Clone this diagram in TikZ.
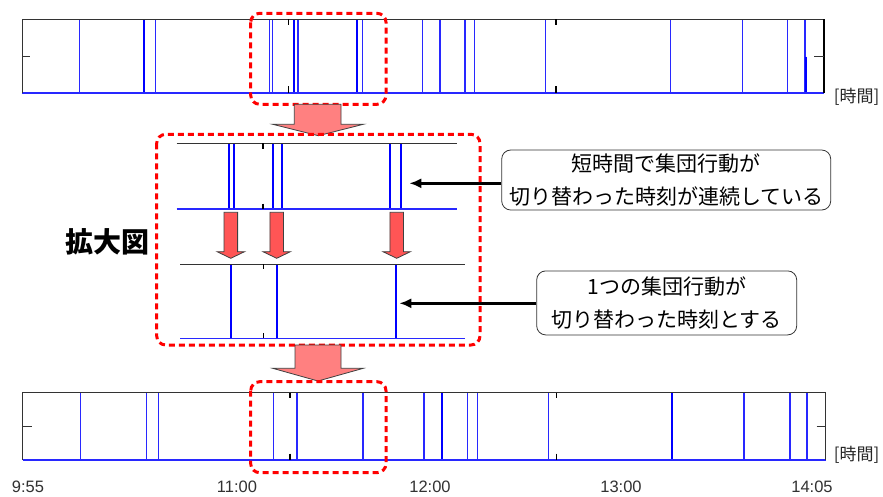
\documentclass[tikz,border=0pt]{standalone}
\usepackage{fontspec}
\setmainfont{Liberation Sans}
\newfontfamily\jp{Noto Sans CJK JP}
\usetikzlibrary{arrows.meta}
\definecolor{evblue}{RGB}{40,40,255}
\definecolor{bigpink}{RGB}{255,128,128}
\definecolor{smallred}{RGB}{255,85,85}
\definecolor{axisgray}{RGB}{50,50,50}
\tikzset{
 frame/.style={draw=black!80, line width=1pt},
 baseblue/.style={draw=evblue, line width=1.2pt},
 ev/.style={draw=evblue, line width=1.2pt},
 evthick/.style={draw=blue, line width=2pt},
 evmid/.style={draw=blue, line width=1.8pt},
 tickmark/.style={draw=black, line width=1.5pt},
 zoombox/.style={draw=red, line width=3pt, dash pattern=on 6pt off 4pt, rounded corners=9pt},
 bigarrow/.style={fill=bigpink, draw=black!75, line width=0.8pt},
 smallarrow/.style={fill=smallred, draw=black!75, line width=0.8pt},
 callout/.style={draw=black!80, line width=0.8pt, rounded corners=9pt, align=center,
   font=\jp\fontsize{21}{33.5}\selectfont, inner sep=0pt},
 pointer/.style={draw=black, line width=2.4pt, -{Latex[length=12pt,width=10pt]}},
 timelabel/.style={font=\fontsize{16.5}{18}\selectfont, text=axisgray, inner sep=0pt},
 unitlabel/.style={font=\jp\fontsize{17}{18}\selectfont, text=black!85, inner sep=0pt},
 titlelabel/.style={font=\jp\bfseries\fontsize{28}{30}\selectfont, inner sep=0pt},
}
\begin{document}
\begin{tikzpicture}[x=1pt,y=-1pt]
\useasboundingbox (0,0) rectangle (883,496);
\fill[white] (0,0) rectangle (883,496);

% ---------- top strip ----------
\foreach \x in {79.3,155.7,269.3,272.7,298,362.7,422.7,440,465,474.7,545.7,670.7,742.7,787.7,805}
  \draw[ev] (\x,19) -- (\x,93);
\foreach \x in {144,294,357.3}
  \draw[evthick] (\x,19) -- (\x,93);
\draw[evthick] (805.8,56.5) -- (805.8,93);
\draw[baseblue] (22,93) -- (824,93);
\draw[frame] (22,93) -- (22,19) -- (824,19);
\draw[draw=black, line width=2pt] (824,19) -- (824,93);
\draw[frame] (22,56) -- (30,56);
\draw[frame] (814,56) -- (824,56);
\foreach \x in {288.7,556}{
  \draw[tickmark] (\x,19) -- (\x,25);
  \draw[tickmark] (\x,86) -- (\x,93);
}
\node[unitlabel] (unittop) at (856.7,96.7) {[時間]};
\draw[zoombox] (250.7,13.3) rectangle (386,104.3);

% ---------- big arrow 1 ----------
\draw[bigarrow] (294.3,104.3) -- (341,104.3) -- (341,124.3) -- (363.3,124.3)
  -- (318.3,135.7) -- (272.7,124.3) -- (294.3,124.3) -- cycle;

% ---------- zoomed view ----------
\foreach \x in {228.7,234,273.3,282.3,390,401.3}
  \draw[evmid] (\x,143.3) -- (\x,209);
\draw[frame] (176.7,143.3) -- (456.7,143.3);
\draw[baseblue] (176.7,209) -- (456.7,209);
\draw[draw=black, line width=2pt] (263.3,143.3) -- (263.3,148.5);
\draw[draw=black, line width=2pt] (263.3,203.5) -- (263.3,209);

\foreach \c in {230.8,276.7,396.7}
  \draw[smallarrow] (\c-6.8,212.3) -- (\c+6.8,212.3) -- (\c+6.8,251.7) -- (\c+13.7,251.7)
    -- (\c,258.3) -- (\c-13.7,251.7) -- (\c-6.8,251.7) -- cycle;

\foreach \x in {230.7,277,396.3}
  \draw[evmid] (\x,264) -- (\x,338.3);
\draw[frame] (180,264) -- (465,264);
\draw[baseblue] (180,338.3) -- (465,338.3);
\draw[draw=black, line width=1pt] (263.3,264) -- (263.3,268.5);
\draw[draw=black, line width=1pt] (263.3,333) -- (263.3,338.3);

% ---------- callouts ----------
\node[callout, minimum width=329pt, minimum height=60pt] (c1) at (666.2,180)
  {短時間で集団行動が\\切り替わった時刻が連続している};
\node[callout, minimum width=260pt, minimum height=64pt] (c2) at (666.7,302.9)
  {1つの集団行動が\\切り替わった時刻とする};
\coordinate (t1) at (409.3,183.3);
\coordinate (t2) at (399.3,303.3);
\draw[pointer] (t1 -| c1.west) -- (t1);
\draw[pointer] (t2 -| c2.west) -- (t2);

\draw[zoombox] (156.7,134.3) rectangle (480,345);
\node[titlelabel] (kakudai) at (107.5,241.7) {拡大図};

% ---------- big arrow 2 ----------
\draw[bigarrow] (295,345) -- (341,345) -- (341,368.3) -- (363.3,368.3)
  -- (318,381) -- (272.7,368.3) -- (295,368.3) -- cycle;

% ---------- bottom strip ----------
\foreach \x in {80.7,146.7,158.7,273.3,297,363,424,467.7,477.3,548.3,744,790,807}
  \draw[ev] (\x,392.7) -- (\x,460);
\foreach \x in {441.7,672.3}
  \draw[evthick] (\x,392.7) -- (\x,460);
\draw[baseblue] (22.7,460) -- (825.7,460);
\draw[frame] (22.7,460) -- (22.7,392.7) -- (825.7,392.7) -- (825.7,460);
\draw[frame] (22.7,426) -- (31.5,426);
\draw[frame] (816.7,426) -- (825.7,426);
\foreach \x in {290,556.7}{
  \draw[tickmark] (\x,392.7) -- (\x,398);
  \draw[tickmark] (\x,453.5) -- (\x,460);
}
\node[unitlabel] (unitbot) at (856.7,454.5) {[時間]};
\draw[zoombox] (250.7,381.7) rectangle (386,472.7);

% ---------- time axis labels ----------
\node[timelabel] (l955) at (28,486.7) {9:55};
\node[timelabel] (l1100) at (237,486.7) {11:00};
\node[timelabel] (l1200) at (430,486.7) {12:00};
\node[timelabel] (l1300) at (621,486.7) {13:00};
\node[timelabel] (l1405) at (812,486.7) {14:05};
\end{tikzpicture}
\end{document}
